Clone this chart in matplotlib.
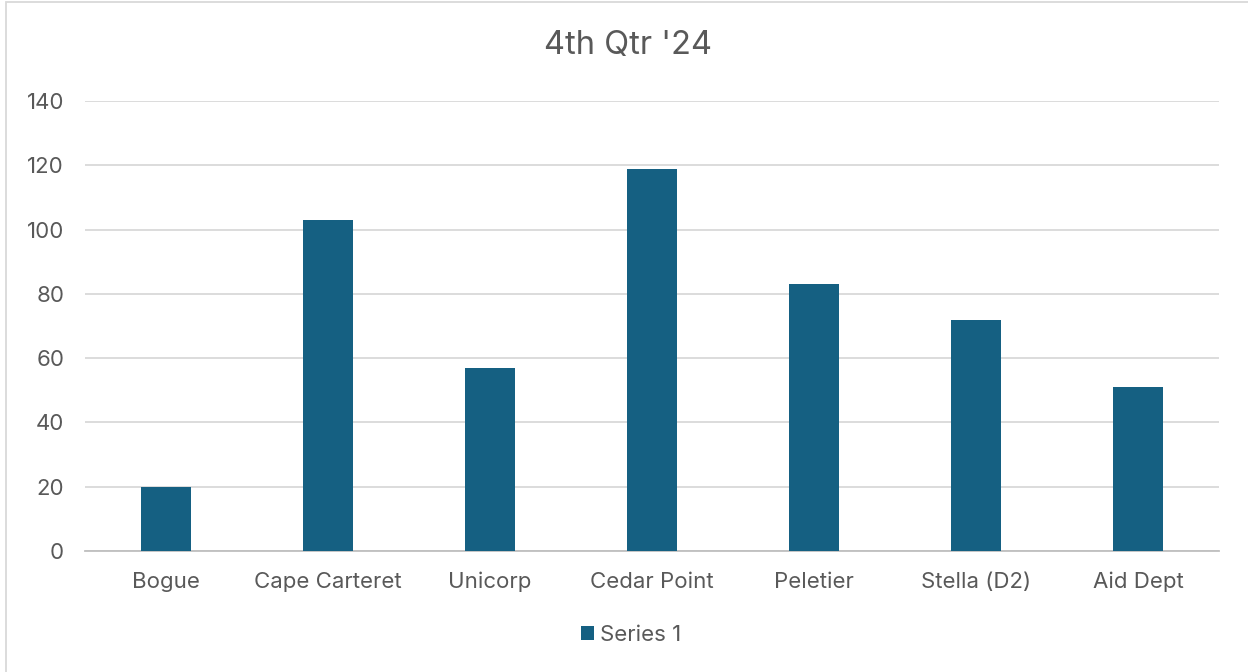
import matplotlib
matplotlib.use("Agg")
import matplotlib.pyplot as plt
from matplotlib.patches import Rectangle

categories = ["Bogue", "Cape Carteret", "Unicorp", "Cedar Point", "Peletier", "Stella (D2)", "Aid Dept"]
values = [20, 103, 57, 119, 83, 72, 51]
yticks = [0, 20, 40, 60, 80, 100, 120, 140]
series_name = "Series 1"
title = "4th Qtr '24"

plt.rcParams['font.family'] = ['Inter', 'DejaVu Sans']
W, H = 1248, 672
fig = plt.figure(figsize=(W / 100, H / 100), dpi=100)
fig.patch.set_facecolor("white")

# outer border (chart area)
fig.add_artist(Rectangle((6 / W, -0.01), 1.1, 1 - 2 / H + 0.01, transform=fig.transFigure,
                         fill=False, edgecolor="#d9d9d9", linewidth=1.3))

ax = fig.add_axes([85 / W, 1 - 551 / H, (1219 - 85) / W, (551 - 101) / H])
bar_color = "#156082"
x = list(range(len(categories)))
bars = ax.bar(x, values, width=0.31, color=bar_color, zorder=3, label=series_name)
ax.set_xlim(-0.5, len(categories) - 0.5)
ax.set_ylim(0, 140)
ax.set_yticks(yticks)
ax.set_xticks(x)
ax.set_xticklabels(categories)
for s in ["top", "right", "left"]:
    ax.spines[s].set_visible(False)
ax.spines["bottom"].set_color("#bfbfbf")
ax.spines["bottom"].set_linewidth(1.3)
ax.grid(axis="y", color="#d9d9d9", linewidth=1.3, zorder=0)
ax.tick_params(axis="both", length=0, labelsize=16, colors="#595959")
ax.tick_params(axis="y", pad=15)
ax.tick_params(axis="x", pad=15)

fig.text(628 / W, 1 - 46 / H, title, ha="center", va="center", fontsize=23.5, color="#595959")

leg = fig.legend(handles=[bars], labels=[series_name], loc="center", bbox_to_anchor=(631 / W, 1 - 635 / H),
                 frameon=False, fontsize=16, handlelength=0.6, handleheight=0.6, handletextpad=0.25,
                 labelcolor="#595959")

fig.savefig("out.png", dpi=100, facecolor="white")
